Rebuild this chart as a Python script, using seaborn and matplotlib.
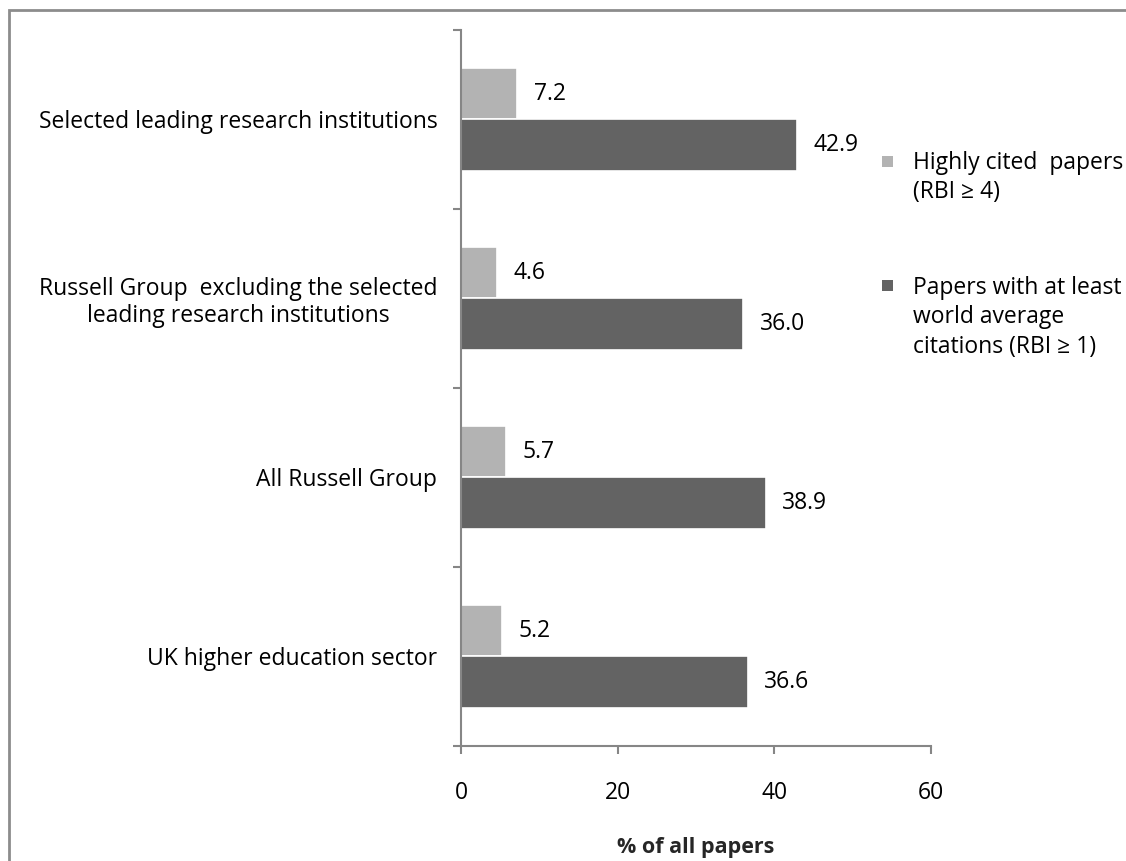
import pandas as pd
import matplotlib.pyplot as plt
import matplotlib.patches as mpatches
import seaborn as sns

# ─────────────────────────────────────────
# DATA
# ─────────────────────────────────────────
categories = [
    "Selected leading research institutions",
    "Russell Group  excluding the selected\nleading research institutions",
    "All Russell Group",
    "UK higher education sector",
]
series_names = [
    "Highly cited  papers\n(RBI \u2265 4)",
    "Papers with at least\nworld average\ncitations (RBI \u2265 1)",
]
highly_cited = [7.2, 4.6, 5.7, 5.2]
world_avg = [42.9, 36.0, 38.9, 36.6]
colors = ["#b3b3b3", "#636363"]

df = pd.DataFrame({
    "category": categories * 2,
    "series": [series_names[0]] * 4 + [series_names[1]] * 4,
    "value": highly_cited + world_avg,
})

sns.set_style("white")
plt.rcParams["font.family"] = ["Open Sans", "DejaVu Sans"]
plt.rcParams["text.color"] = "black"
plt.rcParams["xtick.color"] = "black"
plt.rcParams["ytick.color"] = "black"
FS = 16.5

fig = plt.figure(figsize=(11.26, 8.61), dpi=100)
ax = fig.add_axes([0.4094, 0.1336, 0.4174, 0.8316])

sns.barplot(
    data=df, x="value", y="category", hue="series",
    hue_order=series_names, order=categories,
    palette=colors, orient="h", width=0.58,
    edgecolor="white", linewidth=1.2, saturation=1,
    legend=False, ax=ax,
)

for cont in ax.containers:
    ax.bar_label(cont, fmt="%.1f", padding=12, fontsize=FS)

ax.set_xlim(0, 60)
ax.set_ylim(3.5, -0.5)
ax.set_xticks([0, 20, 40, 60])
ax.tick_params(axis="x", bottom=True, labelsize=FS, length=6, width=1.5,
               color="#868686", direction="out", pad=19)
ax.set_yticks(range(len(categories)))
ax.set_yticklabels(categories, fontsize=FS, ha="right",
                   multialignment="center", linespacing=1.15)
ax.tick_params(axis="y", which="major", left=False, length=0, pad=17)
ax.set_yticks([-0.5, 0.5, 1.5, 2.5, 3.5], minor=True)
ax.tick_params(axis="y", which="minor", left=True, length=6, width=1.5,
               color="#868686", direction="out")
ax.set_ylabel("")
ax.set_xlabel("% of all papers", fontsize=FS - 1, fontweight="bold",
              labelpad=23)

for side in ["top", "right"]:
    ax.spines[side].set_visible(False)
for side in ["left", "bottom"]:
    ax.spines[side].set_color("#868686")
    ax.spines[side].set_linewidth(1.5)

# legend, drawn by hand so the swatch sits on the first line
leg_x = 882 / 1126
leg_rows = [161, 286]
for name, col, yc in zip(series_names, colors, leg_rows):
    yf = 1 - yc / 861
    fig.patches.append(mpatches.Rectangle(
        (leg_x, yf - 5.5 / 861), 11 / 1126, 11 / 861,
        transform=fig.transFigure, facecolor=col, edgecolor="none"))
    fig.text(913 / 1126, yf + 10 / 861, name, fontsize=FS, va="top",
             ha="left", linespacing=1.3)

border = mpatches.Rectangle((9 / 1126, -0.05), 1.2, 0.05 + 1 - 10 / 861,
                            transform=fig.transFigure, fill=False,
                            edgecolor="#8c8c8c", linewidth=2)
fig.patches.append(border)

fig.savefig("out.png", dpi=100)
